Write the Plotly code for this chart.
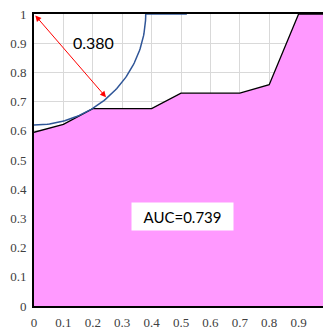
import numpy as np
import plotly.graph_objects as go

fpr = [0, 0.1, 0.2, 0.3, 0.4, 0.5, 0.6, 0.7, 0.8, 0.9, 1.0]
tpr = [0.595, 0.622, 0.676, 0.676, 0.676, 0.729, 0.729, 0.729, 0.758, 1.0, 1.0]
radius = 0.380
auc = 0.739
arc_tail_x = 0.52
arrow_end = (0.245, 0.715)
ticks = [0, 0.1, 0.2, 0.3, 0.4, 0.5, 0.6, 0.7, 0.8, 0.9, 1]
tick_text = ["0", "0.1", "0.2", "0.3", "0.4", "0.5", "0.6", "0.7", "0.8", "0.9", "1"]

theta = np.linspace(0, np.pi / 2, 80)
arc_x = list(radius * np.sin(theta)) + [arc_tail_x]
arc_y = list(1 - radius * np.cos(theta)) + [1.0]

fig = go.Figure()
fig.add_trace(go.Scatter(x=fpr, y=tpr, mode="lines", fill="tozeroy",
                         fillcolor="#FF99FF", line=dict(color="black", width=1.3),
                         hoverinfo="skip"))
fig.add_trace(go.Scatter(x=arc_x, y=arc_y, mode="lines",
                         line=dict(color="#2F5597", width=1.5), hoverinfo="skip"))

fig.add_annotation(x=arrow_end[0], y=arrow_end[1], ax=0, ay=1, xref="x", yref="y",
                   axref="x", ayref="y", text="", showarrow=True,
                   arrowhead=2, arrowside="end+start", arrowsize=1.2,
                   arrowwidth=1, arrowcolor="red")
fig.add_annotation(x=0.202, y=0.902, text=f"{radius:.3f}", showarrow=False,
                   font=dict(family="Lato", size=16, color="black"))
fig.add_annotation(x=0.505, y=0.308, text=f"AUC={auc:.3f}", showarrow=False,
                   bgcolor="white", borderpad=3, width=95, height=21,
                   font=dict(family="Lato", size=15, color="black"))

axis_common = dict(tickvals=ticks, ticktext=tick_text, showgrid=True,
                   gridcolor="#D9D9D9", gridwidth=1, zeroline=False,
                   showline=True, linecolor="black", linewidth=2,
                   tickfont=dict(family="Liberation Serif", size=13, color="#404040"),
                   ticks="", automargin=False)
fig.update_xaxes(range=[0, 0.983], mirror=True, ticklabelstandoff=3, **axis_common)
fig.update_yaxes(range=[0, 1], ticklabelstandoff=3, **axis_common)

fig.update_layout(width=323, height=329, margin=dict(l=34, r=0, t=14, b=23),
                  plot_bgcolor="white", paper_bgcolor="white", showlegend=False)
fig.write_html("out.html", config={"displayModeBar": False},
               post_script="document.body.style.margin='0';"
                           "document.body.style.overflow='hidden';")
